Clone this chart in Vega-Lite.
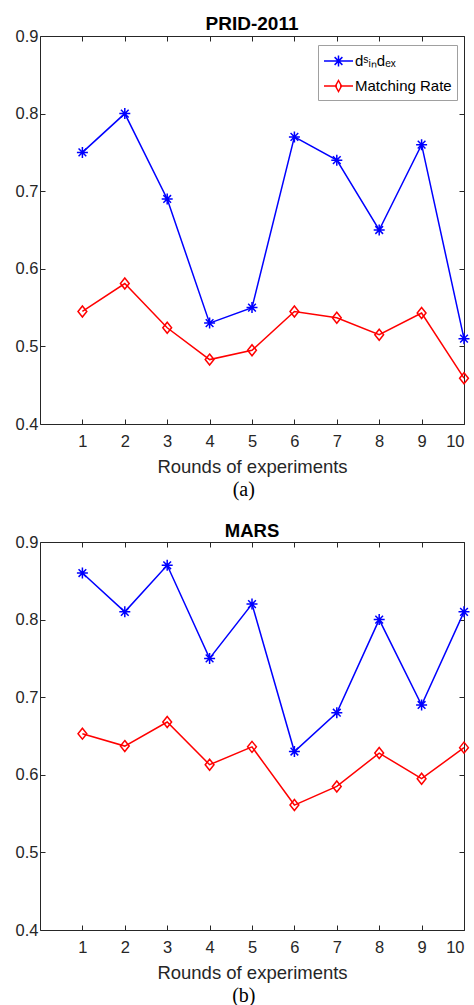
{
  "$schema": "https://vega.github.io/schema/vega-lite/v6.json",
  "padding": {"left": 15, "top": 15, "right": 0, "bottom": 0},
  "background": "white",
  "config": {
    "view": {"stroke": null},
    "font": "Liberation Sans",
    "axis": {"grid": false, "domainColor": "#262626", "tickColor": "#262626", "labelColor": "#262626", "titleColor": "#262626", "labelFont": "Liberation Sans", "labelFontSize": 16.5, "titleFont": "Liberation Sans", "titleFontSize": 18.5, "titleFontWeight": "normal", "tickSize": -5, "domainWidth": 1, "tickWidth": 1}
  },
  "datasets": {
    "prid": [
      {"round": 1, "series": "dindex", "value": 0.75},
      {"round": 2, "series": "dindex", "value": 0.80},
      {"round": 3, "series": "dindex", "value": 0.69},
      {"round": 4, "series": "dindex", "value": 0.53},
      {"round": 5, "series": "dindex", "value": 0.55},
      {"round": 6, "series": "dindex", "value": 0.77},
      {"round": 7, "series": "dindex", "value": 0.74},
      {"round": 8, "series": "dindex", "value": 0.65},
      {"round": 9, "series": "dindex", "value": 0.76},
      {"round": 10, "series": "dindex", "value": 0.51},
      {"round": 1, "series": "Matching Rate", "value": 0.545},
      {"round": 2, "series": "Matching Rate", "value": 0.581},
      {"round": 3, "series": "Matching Rate", "value": 0.524},
      {"round": 4, "series": "Matching Rate", "value": 0.483},
      {"round": 5, "series": "Matching Rate", "value": 0.495},
      {"round": 6, "series": "Matching Rate", "value": 0.545},
      {"round": 7, "series": "Matching Rate", "value": 0.537},
      {"round": 8, "series": "Matching Rate", "value": 0.515},
      {"round": 9, "series": "Matching Rate", "value": 0.543},
      {"round": 10, "series": "Matching Rate", "value": 0.459}
    ],
    "mars": [
      {"round": 1, "series": "dindex", "value": 0.86},
      {"round": 2, "series": "dindex", "value": 0.81},
      {"round": 3, "series": "dindex", "value": 0.87},
      {"round": 4, "series": "dindex", "value": 0.75},
      {"round": 5, "series": "dindex", "value": 0.82},
      {"round": 6, "series": "dindex", "value": 0.63},
      {"round": 7, "series": "dindex", "value": 0.68},
      {"round": 8, "series": "dindex", "value": 0.80},
      {"round": 9, "series": "dindex", "value": 0.69},
      {"round": 10, "series": "dindex", "value": 0.81},
      {"round": 1, "series": "Matching Rate", "value": 0.653},
      {"round": 2, "series": "Matching Rate", "value": 0.637},
      {"round": 3, "series": "Matching Rate", "value": 0.668},
      {"round": 4, "series": "Matching Rate", "value": 0.613},
      {"round": 5, "series": "Matching Rate", "value": 0.636},
      {"round": 6, "series": "Matching Rate", "value": 0.561},
      {"round": 7, "series": "Matching Rate", "value": 0.585},
      {"round": 8, "series": "Matching Rate", "value": 0.628},
      {"round": 9, "series": "Matching Rate", "value": 0.595},
      {"round": 10, "series": "Matching Rate", "value": 0.635}
    ]
  },
  "spacing": 21,
  "vconcat": [
    {
      "title": {"text": "(a)", "orient": "bottom", "anchor": "middle", "font": "Liberation Serif", "fontSize": 20, "fontWeight": "normal", "color": "black", "offset": 4},
      "vconcat": [
        {
          "title": {"text": "PRID-2011", "font": "Liberation Sans", "fontSize": 19, "fontWeight": "bold", "color": "black", "offset": -6},
          "width": 424,
          "height": 388,
          "data": {"name": "prid"},
          "layer": [
            {
              "mark": {"type": "line", "strokeWidth": 1.5},
              "encoding": {
                "x": {"field": "round", "type": "quantitative", "scale": {"domain": [0, 10], "nice": false}, "axis": {"values": [1,2,3,4,5,6,7,8,9,10], "title": "Rounds of experiments", "labelPadding": 14, "titlePadding": 8}},
                "y": {"field": "value", "type": "quantitative", "scale": {"domain": [0.4, 0.9], "nice": false, "zero": false}, "axis": {"values": [0.4,0.5,0.6,0.7,0.8,0.9], "format": ".1f", "title": null, "labelPadding": 7}},
                "color": {"field": "series", "type": "nominal", "scale": {"domain": ["dindex", "Matching Rate"], "range": ["#0000ff", "#ff0000"]},
                  "legend": {"orient": "none", "legendX": 278, "legendY": 9, "title": null, "labelFont": "Liberation Sans", "labelFontSize": 15, "labelColor": "black", "labelExpr": "datum.label == 'dindex' ? 'dˢᵢₙdₑₓ' : datum.label", "symbolSize": 400, "symbolStrokeWidth": 1.5, "labelOffset": 10, "padding": 5, "rowPadding": 5, "strokeColor": "#a0a0a0", "fillColor": "white",
                    "encode": {"symbols": {"update": {"shape": {"signal": "datum.value === 'dindex' ? 'M-1,0H1.9M0.45,-0.55V0.55M-0.1,0H1M0.06,-0.39L0.84,0.39M0.06,0.39L0.84,-0.39' : 'M-1,0H0.3M0.6,0H1.9M0.45,-0.55L0.75,0L0.45,0.55L0.15,0Z'"}, "fill": {"value": "white"}, "fillOpacity": {"value": 1}, "strokeWidth": {"value": 1.5}}}}}}
              }
            },
            {
              "transform": [{"filter": "datum.series == 'dindex'"}],
              "mark": {"type": "point", "filled": false, "strokeWidth": 1.5, "size": 121, "opacity": 1, "color": "#0000ff", "shape": "M0,-1V1M-1,0H1M-0.7,-0.7L0.7,0.7M-0.7,0.7L0.7,-0.7"},
              "encoding": {
                "x": {"field": "round", "type": "quantitative", "axis": null},
                "y": {"field": "value", "type": "quantitative", "axis": null}
              }
            },
            {
              "transform": [{"filter": "datum.series == 'Matching Rate'"}],
              "mark": {"type": "point", "filled": false, "strokeWidth": 1.5, "size": 121, "opacity": 1, "color": "#ff0000", "shape": "M0,-1L0.8,0L0,1L-0.8,0Z"},
              "encoding": {
                "x": {"field": "round", "type": "quantitative", "axis": null},
                "y": {"field": "value", "type": "quantitative", "axis": null}
              }
            },
            {
              "mark": {"type": "point", "opacity": 0},
              "encoding": {
                "x": {"field": "round", "type": "quantitative", "axis": {"orient": "top", "values": [1,2,3,4,5,6,7,8,9,10], "labels": false, "title": null, "labelPadding": 0, "minExtent": 0, "maxExtent": 0}},
                "y": {"field": "value", "type": "quantitative", "axis": {"orient": "right", "values": [0.4,0.5,0.6,0.7,0.8,0.9], "labels": false, "title": null, "labelPadding": 0, "minExtent": 0, "maxExtent": 0}}
              }
            }
          ],
          "resolve": {"axis": {"x": "independent", "y": "independent"}}
        }
      ]
    },
    {
      "title": {"text": "(b)", "orient": "bottom", "anchor": "middle", "font": "Liberation Serif", "fontSize": 20, "fontWeight": "normal", "color": "black", "offset": 4},
      "vconcat": [
        {
          "title": {"text": "MARS", "font": "Liberation Sans", "fontSize": 18.5, "fontWeight": "bold", "color": "black", "offset": -6},
          "width": 424,
          "height": 388,
          "data": {"name": "mars"},
          "layer": [
            {
              "mark": {"type": "line", "strokeWidth": 1.5},
              "encoding": {
                "x": {"field": "round", "type": "quantitative", "scale": {"domain": [0, 10], "nice": false}, "axis": {"values": [1,2,3,4,5,6,7,8,9,10], "title": "Rounds of experiments", "labelPadding": 14, "titlePadding": 8}},
                "y": {"field": "value", "type": "quantitative", "scale": {"domain": [0.4, 0.9], "nice": false, "zero": false}, "axis": {"values": [0.4,0.5,0.6,0.7,0.8,0.9], "format": ".1f", "title": null, "labelPadding": 7}},
                "color": {"field": "series", "type": "nominal", "scale": {"domain": ["dindex", "Matching Rate"], "range": ["#0000ff", "#ff0000"]},
                  "legend": {"orient": "none", "legendX": 288, "legendY": 296, "title": null, "labelFont": "Liberation Sans", "labelFontSize": 15, "labelColor": "black", "labelExpr": "datum.label == 'dindex' ? 'dˢᵢₙdₑₓ' : datum.label", "symbolSize": 400, "symbolStrokeWidth": 1.5, "labelOffset": 10, "padding": 5, "rowPadding": 5, "strokeColor": "#a0a0a0", "fillColor": "white",
                    "encode": {"symbols": {"update": {"shape": {"signal": "datum.value === 'dindex' ? 'M-1,0H1.9M0.45,-0.55V0.55M-0.1,0H1M0.06,-0.39L0.84,0.39M0.06,0.39L0.84,-0.39' : 'M-1,0H0.3M0.6,0H1.9M0.45,-0.55L0.75,0L0.45,0.55L0.15,0Z'"}, "fill": {"value": "white"}, "fillOpacity": {"value": 1}, "strokeWidth": {"value": 1.5}}}}}}
              }
            },
            {
              "transform": [{"filter": "datum.series == 'dindex'"}],
              "mark": {"type": "point", "filled": false, "strokeWidth": 1.5, "size": 121, "opacity": 1, "color": "#0000ff", "shape": "M0,-1V1M-1,0H1M-0.7,-0.7L0.7,0.7M-0.7,0.7L0.7,-0.7"},
              "encoding": {
                "x": {"field": "round", "type": "quantitative", "axis": null},
                "y": {"field": "value", "type": "quantitative", "axis": null}
              }
            },
            {
              "transform": [{"filter": "datum.series == 'Matching Rate'"}],
              "mark": {"type": "point", "filled": false, "strokeWidth": 1.5, "size": 121, "opacity": 1, "color": "#ff0000", "shape": "M0,-1L0.8,0L0,1L-0.8,0Z"},
              "encoding": {
                "x": {"field": "round", "type": "quantitative", "axis": null},
                "y": {"field": "value", "type": "quantitative", "axis": null}
              }
            },
            {
              "mark": {"type": "point", "opacity": 0},
              "encoding": {
                "x": {"field": "round", "type": "quantitative", "axis": {"orient": "top", "values": [1,2,3,4,5,6,7,8,9,10], "labels": false, "title": null, "labelPadding": 0, "minExtent": 0, "maxExtent": 0}},
                "y": {"field": "value", "type": "quantitative", "axis": {"orient": "right", "values": [0.4,0.5,0.6,0.7,0.8,0.9], "labels": false, "title": null, "labelPadding": 0, "minExtent": 0, "maxExtent": 0}}
              }
            }
          ],
          "resolve": {"axis": {"x": "independent", "y": "independent"}}
        }
      ]
    }
  ]
}
